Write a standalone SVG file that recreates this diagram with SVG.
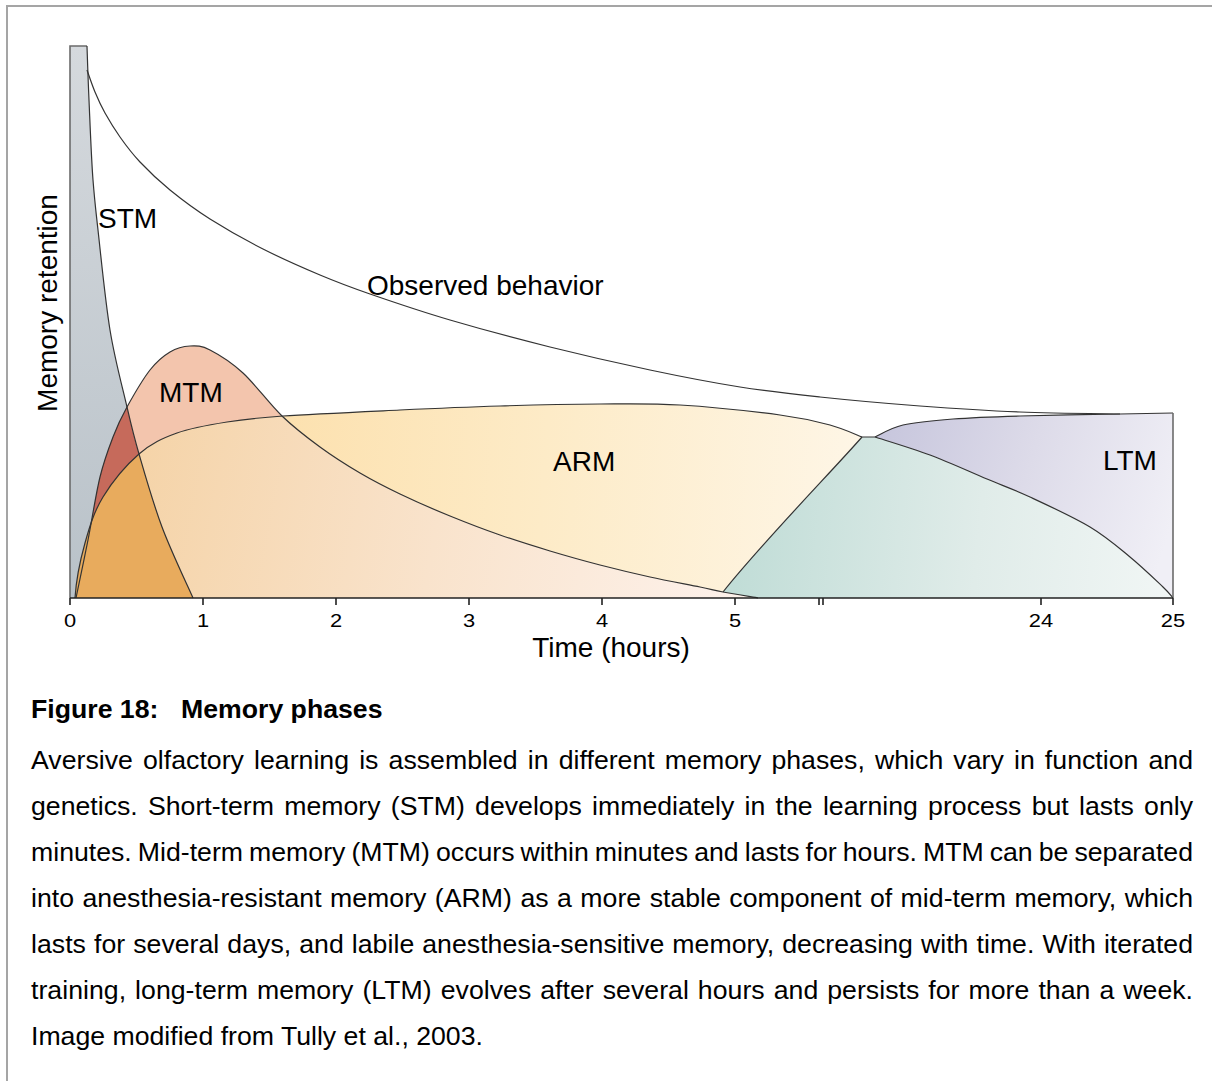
<svg xmlns="http://www.w3.org/2000/svg" xmlns:xlink="http://www.w3.org/1999/xlink" width="1212" height="1081" viewBox="0 0 1212 1081">
  <style>
    .edge { fill: none; stroke: #333; stroke-width: 1.2; stroke-linejoin: round; }
    .outer { fill: none; stroke: #6b6b6b; stroke-width: 1.6; }
    .axis { fill: none; stroke: #222; stroke-width: 1.6; }
    .lbl { font-family: "Liberation Sans", Arial, sans-serif; font-size: 28px; fill: #000; }
    .tick { font-family: "Liberation Sans", Arial, sans-serif; font-size: 17.5px; fill: #000; text-anchor: middle; }
    .cap { font-family: "Liberation Sans", Arial, sans-serif; font-size: 26.67px; fill: #000; }
    .capb { font-family: "Liberation Sans", Arial, sans-serif; font-size: 26.67px; font-weight: bold; fill: #000; }
  </style>
  <defs>
    <!-- phase outlines -->
    <path id="stmShape" d="M70,598 L70,46 L87,46 C87.3,55 88,77.7 89,100 S91.3,158.3 93,180 S95.2,205 98,230 S105.2,300.5 110,330 S122.2,386.3 127,407 S133.2,434 139,454 S153,503 162,527 S187.8,586.2 193,598 Z"/>
    <path id="mtmShape" d="M76,598 C78,588.3 84,560.2 88,540 S95.8,494.2 100,477 S108.5,448.7 113,437 S120.8,418.2 127,407 S142.8,379.2 150,370 S163.3,356 170,352 S183.3,346.3 190,346 S201.2,345.5 210,350 S231,362 243,373 S269.2,403.7 282,416 S307,437.5 320,447 S346.7,465.2 360,473 S385,486.8 400,494 S433.3,509.2 450,516 S483.3,529.2 500,535 S533.3,546 550,551 S583.3,560.7 600,565 S633.3,573.3 650,577 S687.8,584.5 700,587 S713.3,590.2 723,592 S752.2,597 758,598 Z"/>
    <path id="armShape" d="M75,598 C76,582 80.3,559.8 85,543 S94,511.8 103,497 S126.7,464.7 139,454 S162.3,438.3 177,433 S209.3,424.8 227,422 S254.2,418 283,416 S363.8,411.7 400,410 S466.7,407 500,406 S570,404.2 600,404 S650,403.2 680,405 S755,411.7 780,415 S816.3,421.3 830,425 S856.7,435 862,437 C835,468 760,545 723,592 L760,598 Z"/>

    <clipPath id="clipStm"><use xlink:href="#stmShape"/></clipPath>
    <clipPath id="clipArm"><use xlink:href="#armShape"/></clipPath>

    <linearGradient id="stmGrad" gradientUnits="userSpaceOnUse" x1="0" y1="46" x2="0" y2="598">
      <stop offset="0" stop-color="#d5d9dd"/>
      <stop offset="1" stop-color="#b9c2c9"/>
    </linearGradient>
    <linearGradient id="armGrad" gradientUnits="userSpaceOnUse" x1="150" y1="420" x2="870" y2="470">
      <stop offset="0" stop-color="#fcdca3"/>
      <stop offset="0.55" stop-color="#fdebc7"/>
      <stop offset="1" stop-color="#fef6e7"/>
    </linearGradient>
    <linearGradient id="lowGrad" gradientUnits="userSpaceOnUse" x1="140" y1="480" x2="730" y2="590">
      <stop offset="0" stop-color="#f5d4a9"/>
      <stop offset="0.5" stop-color="#f9e3cc"/>
      <stop offset="1" stop-color="#fdf1ea"/>
    </linearGradient>
    <linearGradient id="greenGrad" gradientUnits="userSpaceOnUse" x1="740" y1="520" x2="1173" y2="560">
      <stop offset="0" stop-color="#c1ddd7"/>
      <stop offset="0.55" stop-color="#e0ece9"/>
      <stop offset="1" stop-color="#f1f6f5"/>
    </linearGradient>
    <linearGradient id="ltmGrad" gradientUnits="userSpaceOnUse" x1="880" y1="430" x2="1173" y2="520">
      <stop offset="0" stop-color="#c7c6dd"/>
      <stop offset="0.5" stop-color="#dddbe9"/>
      <stop offset="1" stop-color="#f0eff6"/>
    </linearGradient>
  </defs>

  <!-- page frame -->
  <path d="M7,1081 V6 H1212" fill="none" stroke="#a5a5a5" stroke-width="2"/>

  <!-- filled memory phases -->
  <g id="stm-phase">
    <use xlink:href="#stmShape" fill="url(#stmGrad)"/>
  </g>
  <g id="mtm-phase">
    <use xlink:href="#mtmShape" fill="#f3c5ad"/>
  </g>
  <g id="arm-phase">
    <use xlink:href="#armShape" fill="url(#armGrad)"/>
    <use xlink:href="#mtmShape" fill="url(#lowGrad)" clip-path="url(#clipArm)"/>
  </g>
  <g id="overlaps">
    <use xlink:href="#mtmShape" fill="#c66a5b" clip-path="url(#clipStm)"/>
    <use xlink:href="#armShape" fill="#e8ab5d" clip-path="url(#clipStm)"/>
  </g>
  <g id="ltm-phase">
    <path d="M875,437 C879.7,435 890,428 903,425 S933.5,420.5 953,419 S992.2,416.8 1020,416 S1094.5,414.5 1120,414 S1164.2,413.2 1173,413 L1173,598 L875,598 Z" fill="url(#ltmGrad)"/>
  </g>
  <g id="late-phase">
    <path d="M723,592 C760,545 835,468 862,437 L875,437 C884.2,440 911.3,448 930,455 S970.3,472 987,479 S1012.8,489 1030,497 S1073.3,517 1090,527 S1117.8,547 1130,557 S1155.8,580.2 1163,587 S1171.3,596.2 1173,598 L758,598 Z" fill="url(#greenGrad)"/>
  </g>

  <!-- boundary curves -->
  <g id="curves">
    <path class="outer" d="M70,598 V46 H87"/>
    <path class="edge" d="M87,46 C87.3,55 88,77.7 89,100 S91.3,158.3 93,180 S95.2,205 98,230 S105.2,300.5 110,330 S122.2,386.3 127,407 S133.2,434 139,454 S153,503 162,527 S187.8,586.2 193,598"/>
    <path class="edge" d="M76,598 C78,588.3 84,560.2 88,540 S95.8,494.2 100,477 S108.5,448.7 113,437 S120.8,418.2 127,407 S142.8,379.2 150,370 S163.3,356 170,352 S183.3,346.3 190,346 S201.2,345.5 210,350 S231,362 243,373 S269.2,403.7 282,416 S307,437.5 320,447 S346.7,465.2 360,473 S385,486.8 400,494 S433.3,509.2 450,516 S483.3,529.2 500,535 S533.3,546 550,551 S583.3,560.7 600,565 S633.3,573.3 650,577 S687.8,584.5 700,587 S713.3,590.2 723,592 S752.2,597 758,598"/>
    <path class="edge" d="M75,598 C76,582 80.3,559.8 85,543 S94,511.8 103,497 S126.7,464.7 139,454 S162.3,438.3 177,433 S209.3,424.8 227,422 S254.2,418 283,416 S363.8,411.7 400,410 S466.7,407 500,406 S570,404.2 600,404 S650,403.2 680,405 S755,411.7 780,415 S816.3,421.3 830,425 S856.7,435 862,437"/>
    <path class="edge" d="M723,592 C760,545 835,468 862,437 L875,437"/>
    <path class="edge" d="M875,437 C884.2,440 911.3,448 930,455 S970.3,472 987,479 S1012.8,489 1030,497 S1073.3,517 1090,527 S1117.8,547 1130,557 S1155.8,580.2 1163,587 S1171.3,596.2 1173,598"/>
    <path class="edge" d="M875,437 C879.7,435 890,428 903,425 S933.5,420.5 953,419 S992.2,416.8 1020,416 S1094.5,414.5 1120,414 S1164.2,413.2 1173,413"/>
    <path class="outer" d="M1173,413 V598"/>
    <!-- observed behaviour -->
    <path class="edge" d="M87,70 C88.3,73.7 92,84.8 95,92 S100.8,105.5 105,113 S114.2,128.8 120,137 S131.7,153.2 140,162 S158.3,180.5 170,190 S194.5,209.2 210,219 S244.7,239.7 263,249 S302.2,267.5 320,275 S348.3,286.5 370,294 S420,311.2 450,320 S516.7,338.7 550,347 S618.3,363.3 650,370 S711.7,382.5 740,387 S790,393.8 820,397 S886.7,403.5 920,406 S986.7,410.7 1020,412 S1103.3,413.7 1120,414"/>
  </g>

  <!-- phase labels -->
  <g id="labels">
    <text class="lbl" x="98" y="228">STM</text>
    <text class="lbl" x="367" y="295">Observed behavior</text>
    <text class="lbl" x="159" y="402">MTM</text>
    <text class="lbl" x="553" y="471">ARM</text>
    <text class="lbl" x="1103" y="470">LTM</text>
    <text class="lbl" transform="translate(57,303) rotate(-90)" text-anchor="middle" font-size="27.5">Memory retention</text>
  </g>

  <!-- time axis -->
  <g id="axis">
    <path class="axis" d="M70,598 H1173"/>
    <path class="axis" d="M70,598 v7 M203,598 v7 M336,598 v7 M469,598 v7 M602,598 v7 M735,598 v7 M819,598 v7 M823,598 v7 M1041,598 v7 M1173,598 v7"/>
    <g class="tick">
      <text transform="translate(70,627) scale(1.25,1)">0</text>
      <text transform="translate(203,627) scale(1.25,1)">1</text>
      <text transform="translate(336,627) scale(1.25,1)">2</text>
      <text transform="translate(469,627) scale(1.25,1)">3</text>
      <text transform="translate(602,627) scale(1.25,1)">4</text>
      <text transform="translate(735,627) scale(1.25,1)">5</text>
      <text transform="translate(1041,627) scale(1.25,1)">24</text>
      <text transform="translate(1173,627) scale(1.25,1)">25</text>
    </g>
    <text class="lbl" x="611" y="657" text-anchor="middle" font-size="27.5">Time (hours)</text>
  </g>

  <!-- caption -->
  <g id="caption">
    <text class="capb" x="31" y="718">Figure 18:</text>
    <text class="capb" x="181" y="718">Memory phases</text>
    <text class="cap" x="31" y="769" word-spacing="2.73" textLength="1162" lengthAdjust="spacing">Aversive olfactory learning is assembled in different memory phases, which vary in function and</text>
    <text class="cap" x="31" y="815" word-spacing="2.84" textLength="1162" lengthAdjust="spacing">genetics. Short-term memory (STM) develops immediately in the learning process but lasts only</text>
    <text class="cap" x="31" y="861" word-spacing="-1.37" textLength="1162" lengthAdjust="spacing">minutes. Mid-term memory (MTM) occurs within minutes and lasts for hours. MTM can be separated</text>
    <text class="cap" x="31" y="907" word-spacing="0.99" textLength="1162" lengthAdjust="spacing">into anesthesia-resistant memory (ARM) as a more stable component of mid-term memory, which</text>
    <text class="cap" x="31" y="953" word-spacing="0.62" textLength="1162" lengthAdjust="spacing">lasts for several days, and labile anesthesia-sensitive memory, decreasing with time. With iterated</text>
    <text class="cap" x="31" y="999" word-spacing="1.59" textLength="1162" lengthAdjust="spacing">training, long-term memory (LTM) evolves after several hours and persists for more than a week.</text>
    <text class="cap" x="31" y="1045">Image modified from Tully et al., 2003.</text>
  </g>
</svg>
